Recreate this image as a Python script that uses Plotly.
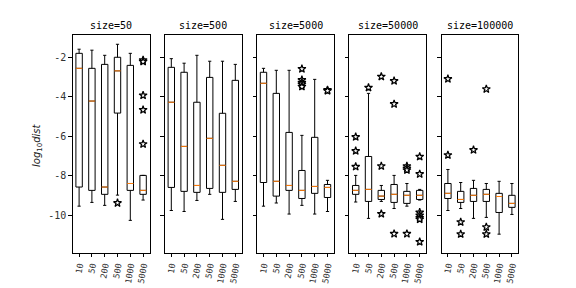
import plotly.graph_objects as go

categories = ["10", "50", "200", "500", "1000", "5000"]
sizes = [50, 500, 5000, 50000, 100000]

whislo = [
    [-9.55, -9.36, -9.51, -8.99, -10.27, -9.24],
    [-9.77, -9.82, -9.26, -8.95, -10.22, -9.31],
    [-9.55, -9.39, -9.95, -9.51, -9.95, -9.82],
    [-9.34, -10.17, -9.31, -9.67, -9.55, -9.24],
    [-9.77, -9.67, -10.17, -10.12, -10.97, -9.97],
]
q1 = [
    [-8.58, -8.75, -8.95, -4.83, -8.75, -8.95],
    [-8.60, -8.80, -8.85, -8.65, -8.85, -8.70],
    [-8.35, -9.04, -8.75, -9.16, -8.90, -9.11],
    [-8.95, -9.31, -9.21, -9.36, -9.41, -9.21],
    [-9.16, -9.36, -9.31, -9.31, -9.87, -9.61],
]
med = [
    [-2.56, -4.22, -8.58, -2.69, -8.40, -8.75],
    [-4.28, -6.52, -8.50, -6.11, -7.48, -8.29],
    [-3.32, -8.29, -8.50, -8.75, -8.55, -8.60],
    [-8.75, -8.70, -9.04, -8.95, -9.00, -9.00],
    [-8.90, -9.21, -9.00, -8.95, -9.06, -9.41],
]
q3 = [
    [-1.80, -2.56, -2.36, -2.00, -2.41, -7.99],
    [-2.51, -2.76, -4.28, -3.02, -4.84, -3.17],
    [-2.76, -3.83, -5.81, -7.74, -6.06, -8.45],
    [-8.50, -7.03, -8.75, -8.45, -8.80, -8.75],
    [-8.40, -8.80, -8.65, -8.70, -8.90, -9.00],
]
whishi = [
    [-1.59, -1.64, -1.90, -1.34, -1.80, -7.99],
    [-2.07, -2.30, -1.90, -2.20, -2.20, -2.36],
    [-2.56, -2.66, -2.66, -5.96, -3.12, -8.24],
    [-7.99, -3.83, -8.50, -7.99, -8.40, -8.70],
    [-7.69, -8.35, -8.24, -8.40, -8.29, -8.40],
]
outliers = [
    [[], [], [], [-9.39], [], [-2.14, -2.22, -3.93, -4.67, -6.40]],
    [[], [], [], [], [], []],
    [[], [], [], [-2.59, -3.15, -3.29, -3.37, -3.49], [], [-3.66, -3.70]],
    [[-6.04, -6.75, -7.55], [-3.54], [-2.98, -7.52, -9.94], [-3.20, -4.37, -10.95],
     [-7.52, -7.63, -7.72, -10.95], [-7.04, -7.92, -9.87, -10.02, -10.14, -10.22, -11.36]],
    [[-3.10, -6.96], [-10.36, -10.97], [-6.70], [-3.61, -10.61, -10.97], [], []],
]

W, H = 576, 288
x0, dx, pw = 72.7 / W, 92.2 / W, 76.8 / W
ytop, ybot = 1 - 35 / H, 1 - 252.7 / H
yrange = [-11.91, -0.87]
positions = list(range(1, len(categories) + 1))
FONT = "DejaVu Sans Mono"

fig = go.Figure()
for i, s in enumerate(sizes):
    xa = "x" if i == 0 else f"x{i+1}"
    ya = "y" if i == 0 else f"y{i+1}"
    fig.add_trace(go.Box(
        x=positions, q1=q1[i], median=med[i], q3=q3[i],
        lowerfence=whislo[i], upperfence=whishi[i],
        width=0.5, whiskerwidth=0.5, boxpoints=False,
        line=dict(color="black", width=1), fillcolor="rgba(0,0,0,0)",
        xaxis=xa, yaxis=ya, showlegend=False, hoverinfo="skip"))
    mx, my = [], []
    for p, m in zip(positions, med[i]):
        mx += [p - 0.25, p + 0.25, None]
        my += [m, m, None]
    fig.add_trace(go.Scatter(x=mx, y=my, mode="lines",
                             line=dict(color="#ff7f0e", width=1),
                             xaxis=xa, yaxis=ya, showlegend=False, hoverinfo="skip"))
    ox, oy = [], []
    for p, vals in zip(positions, outliers[i]):
        ox += [p] * len(vals)
        oy += vals
    fig.add_trace(go.Scatter(x=ox, y=oy, mode="markers",
                             marker=dict(symbol="star", size=6, color="white",
                                         line=dict(width=1.2, color="black")),
                             xaxis=xa, yaxis=ya, showlegend=False, hoverinfo="skip"))
    d0 = x0 + i * dx
    key = "" if i == 0 else str(i + 1)
    fig.layout["xaxis" + key] = dict(
        domain=[d0, d0 + pw], range=[0.5, 6.5], anchor=ya, automargin=False,
        tickvals=positions, ticktext=categories, tickangle=-80,
        ticks="outside", ticklen=3.5, tickwidth=1, tickcolor="black",
        showline=True, mirror=True, linecolor="black", linewidth=1,
        showgrid=False, zeroline=False,
        tickfont=dict(family=FONT, size=8.5, color="#333"))
    fig.layout["yaxis" + key] = dict(
        domain=[ybot, ytop], range=yrange, anchor=xa, automargin=False,
        tickvals=[-2, -4, -6, -8, -10], ticktext=["-2", "-4", "-6", "-8", "-10"],
        showticklabels=(i == 0),
        ticks="outside", ticklen=3.5, tickwidth=1, tickcolor="black",
        showline=True, mirror=True, linecolor="black", linewidth=1,
        showgrid=False, zeroline=False,
        tickfont=dict(family=FONT, size=10, color="#333"))
    fig.add_annotation(text=f"size={s}", x=d0 + pw / 2, y=ytop + 10 / H,
                       xref="paper", yref="paper", showarrow=False,
                       yanchor="middle", xanchor="center",
                       font=dict(family=FONT, size=10, color="black"))

fig.add_annotation(text="<i>log</i><sub>10</sub><i>dist</i>", x=37 / W, y=1 - 145 / H,
                   xref="paper", yref="paper", showarrow=False, textangle=-90,
                   xanchor="center", yanchor="middle",
                   font=dict(family="DejaVu Sans", size=10, color="#222"))

fig.update_layout(width=W, height=H, margin=dict(l=0, r=0, t=0, b=0),
                  plot_bgcolor="white", paper_bgcolor="white")
fig.write_html("out.html", config={"displayModeBar": False},
               post_script="document.body.style.margin='0';")
